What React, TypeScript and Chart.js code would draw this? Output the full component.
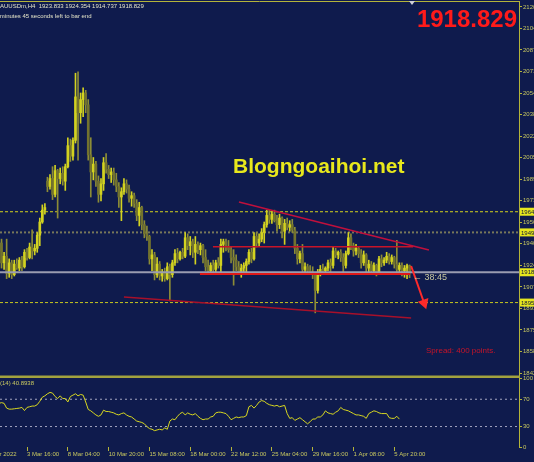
import React, { useEffect, useRef } from 'react';
import { Chart, registerables } from 'chart.js';

Chart.register(...registerables);

// ---------- data (XAUUSDm, H4) ----------
const openP = [
  1935,1941,1926,1931,1918,1926,1917,1925,1922,1928,
  1923,1934,1930,1938,1935,1937,1947,1957,1966,1988,
  1984,1990,1978,1996,1990,1994,1988,1999,2015,2007,
  2019,2052,2040,2050,2055,2046,2008,1995,2001,1988,
  1978,1986,2002,1997,1993,1995,1989,1984,1976,1980,
  1986,1982,1975,1977,1971,1962,1968,1955,1948,1946,
  1929,1932,1917,1925,1916,1919,1914,1923,1917,1926,
  1933,1929,1934,1931,1945,1939,1942,1934,1940,1936,
  1939,1930,1923,1920,1924,1921,1926,1924,1940,1942,
  1938,1936,1930,1928,1923,1919,1922,1924,1927,1934,
  1929,1946,1941,1944,1949,1955,1962,1959,1963,1958,
  1955,1960,1950,1956,1953,1955,1951,1937,1929,1933,
  1921,1923,1920,1919,1917,1905,1919,1921,1920,1922,
  1926,1924,1935,1932,1934,1930,1924,1933,1945,1939,
  1935,1937,1933,1926,1932,1922,1925,1920,1924,1919,
  1929,1926,1928,1931,1927,1930,1925,1921,1924,1920,
  1922,1923.833,
];
const highP = [
  1944,1944,1934,1944,1929,1928,1928,1929,1930,1931,
  1936,1937,1941,1951,1940,1949,1960,1970,1971,1991,
  1993,1999,2000,1997,1998,1999,2001,2021,2020,2021,
  2070,2071,2055,2059,2057,2050,2021,2006,2003,1992,
  1990,2006,2009,2000,1998,1998,1994,1987,1983,1990,
  1989,1985,1980,1979,1974,1972,1969,1958,1954,1947,
  1936,1934,1930,1927,1921,1922,1926,1925,1928,1936,
  1937,1935,1937,1949,1948,1946,1944,1946,1942,1941,
  1940,1936,1928,1926,1928,1928,1930,1944,1944,1944,
  1943,1938,1936,1932,1927,1925,1926,1929,1936,1937,
  1949,1949,1948,1952,1957,1966,1966,1965,1966,1962,
  1963,1961,1959,1960,1958,1959,1953,1940,1935,1940,
  1926,1925,1924,1923,1917,1921,1924,1925,1923,1928,
  1929,1938,1937,1935,1936,1933,1935,1949,1948,1941,
  1940,1938,1936,1935,1933,1928,1927,1926,1925,1931,
  1932,1930,1934,1933,1932,1931,1943,1926,1926,1924,
  1925,1924.354,
];
const lowP = [
  1932,1922,1921,1914,1915,1914,1916,1921,1920,1920,
  1922,1928,1929,1929,1932,1934,1939,1956,1963,1980,
  1982,1974,1976,1960,1986,1985,1981,1998,2003,2004,
  2017,2004,2032,2037,2040,2004,1976,1989,1984,1972,
  1973,1981,1994,1990,1987,1985,1980,1968,1958,1978,
  1979,1972,1969,1968,1958,1954,1951,1945,1943,1925,
  1920,1913,1915,1913,1912,1912,1913,1897,1915,1924,
  1926,1928,1929,1930,1936,1932,1930,1925,1933,1932,
  1926,1920,1918,1918,1918,1918,1922,1918,1934,1935,
  1934,1926,1909,1920,1917,1915,1918,1918,1925,1926,
  1928,1938,1939,1942,1941,1953,1956,1956,1957,1950,
  1952,1945,1940,1951,1950,1949,1933,1925,1926,1918,
  1917,1918,1917,1914,1888,1903,1916,1918,1917,1920,
  1919,1922,1930,1929,1927,1918,1922,1932,1936,1931,
  1932,1930,1922,1924,1919,1918,1917,1918,1916,1918,
  1923,1924,1926,1925,1925,1922,1918,1917,1916,1915,
  1914,1914.737,
];
const closeP = [
  1941,1926,1931,1918,1926,1917,1925,1922,1928,1923,
  1934,1930,1938,1935,1937,1947,1957,1966,1968,1984,
  1990,1978,1996,1990,1994,1988,1999,2015,2007,2019,
  2052,2040,2050,2055,2046,2008,1995,2001,1988,1978,
  1986,2002,1997,1993,1995,1989,1984,1976,1980,1986,
  1982,1975,1977,1971,1962,1968,1955,1948,1946,1929,
  1932,1917,1925,1916,1919,1914,1923,1917,1926,1933,
  1929,1934,1931,1945,1939,1942,1934,1940,1936,1939,
  1930,1923,1920,1924,1921,1926,1924,1940,1942,1938,
  1936,1930,1928,1923,1919,1922,1924,1927,1934,1929,
  1946,1941,1944,1949,1955,1962,1959,1963,1958,1955,
  1960,1950,1956,1953,1955,1951,1937,1929,1933,1921,
  1923,1920,1919,1917,1905,1919,1921,1920,1922,1926,
  1924,1935,1932,1934,1930,1924,1933,1945,1939,1935,
  1937,1933,1926,1932,1922,1925,1920,1924,1919,1929,
  1926,1928,1931,1927,1930,1925,1921,1924,1920,1922,
  1923.833,1918.829,
];
const rsiValues = [
  64,65,64,57,55.5,55.5,56,56.5,57,58,
  53.4,58,59,60,60,62,67,73,75,78,
  80,79,74,71,75,71,71,66,74,76,
  78,75,77,76,66,55,53,50,47,45,
  47,54,52,52,51,50,48,47,49,50,
  47,45,44,41,38,37,36,34,30,27,
  26,24,25,26,25,28,26,38,41,40,
  45,49,51,47,50,48,47,49,45,42,
  40,41,41,44,45,50,51,51,50,49,
  45,40,42,44,43,44,44,46,59,61,
  57,61,66,68,67,64,62,61,60,61,
  59,60,61,49,42,43,39,41,43,40,
  37,34,37,41,41,44,44,47,53,50,
  49,48,51,53,58,55,54,53,51,49,
  47,47,46,45,42,49,51,53,52,50,
  49,49,49,43,42,42,45,40.89,
];

const xTickIdx = [-5, 11, 27, 43, 59, 75, 91, 107, 123, 139, 155];
const xTickLabels = ['1 Mar 2022', '3 Mar 16:00', '8 Mar 04:00', '10 Mar 20:00', '15 Mar 08:00', '18 Mar 00:00',
  '22 Mar 12:00', '25 Mar 04:00', '29 Mar 16:00', '1 Apr 08:00', '5 Apr 20:00'];
const yTicks = [2120.40, 2104.04, 2087.68, 2071.32, 2054.96, 2038.60, 2022.24, 2005.88, 1989.52, 1973.16,
  1956.80, 1940.44, 1924.08, 1907.72, 1891.36, 1875.00, 1858.64, 1842.28];
const rsiTicks = [0, 30, 70, 100];
const rsiLevels = [70, 30];

// horizontal levels: 1964 (dash), 1949 (dots), bid, 1895 (dash)
const hLevels = [1964.80, 1949.10, 1918.829, 1895.80];
// trend lines: [barIndex, price]
const trendUpper = [[94.1, 1972.2], [168.6, 1935.7]];
const resistance = [[83.9, 1938.2], [162.4, 1938.2]];
const support = [[78.8, 1917.5], [161.2, 1917.5]];
const trendLower = [[49.0, 1900.0], [161.6, 1884.1]];
const arrowDown = [[161.6, 1923.6], [166.7, 1895.5]];

const X_MIN = 0.4;
const X_MAX = 203.9;
const BG = '#0f1b4d';
const AXIS = '#b4b43a';
const TXT = '#c8c860';
const FONT = 'Liberation Sans';

const pts = (arr: number[][]) => arr.map(([x, y]) => ({ x, y }));
const noPad = (s: any) => {
  s.paddingLeft = 0;
  s.paddingRight = 0;
  s.paddingTop = 0;
  s.paddingBottom = 0;
};

export default function App() {
  const ref = useRef<HTMLCanvasElement | null>(null);

  useEffect(() => {
    document.body.style.margin = '0';
    document.body.style.background = BG;
    const canvas = ref.current!;
    const bull = closeP.map((c, i) => c >= openP[i]);

    const levelStyles = [
      { color: '#d2d21e', dash: [3, 2], width: 1 },
      { color: '#78785a', dash: [2, 2], width: 2 },
      { color: '#9a9cb0', dash: [], width: 2 },
      { color: '#c8c81e', dash: [3, 2], width: 1 },
    ];

    const datasets: any[] = [
      {
        type: 'line', data: pts(arrowDown), borderColor: '#ff2a2a', borderWidth: 2,
        pointRadius: [0, 4.5], pointStyle: 'triangle', pointRotation: 161,
        pointBackgroundColor: '#ff2a2a', pointBorderColor: '#ff2a2a', order: 0, yAxisID: 'y',
      },
      { type: 'line', data: pts(trendUpper), borderColor: '#c0103c', borderWidth: 1.5, pointRadius: 0, order: 1, yAxisID: 'y' },
      { type: 'line', data: pts(resistance), borderColor: '#c81428', borderWidth: 1.5, pointRadius: 0, order: 1, yAxisID: 'y' },
      { type: 'line', data: pts(support), borderColor: '#e01818', borderWidth: 2, pointRadius: 0, order: 1, yAxisID: 'y' },
      { type: 'line', data: pts(trendLower), borderColor: '#a8102a', borderWidth: 1.5, pointRadius: 0, order: 1, yAxisID: 'y' },
      {
        type: 'bar', data: openP.map((o, i) => ({ x: i, y: [o, closeP[i]] })),
        backgroundColor: bull.map((b) => (b ? '#d2d220' : '#72722e')), barThickness: 2, minBarLength: 1,
        grouped: false, order: 2, yAxisID: 'y',
      },
      {
        type: 'bar', data: lowP.map((l, i) => ({ x: i, y: [l, highP[i]] })),
        backgroundColor: bull.map((b) => (b ? '#d2d220' : '#8c8c36')), barThickness: 1,
        grouped: false, order: 3, yAxisID: 'y',
      },
      ...hLevels.map((v, k) => ({
        type: 'line', data: [{ x: X_MIN, y: v }, { x: X_MAX, y: v }], borderColor: levelStyles[k].color,
        borderWidth: levelStyles[k].width, borderDash: levelStyles[k].dash, pointRadius: 0,
        order: k === 2 ? 1 : 6, yAxisID: 'y',
      })),
      {
        type: 'line', data: rsiValues.map((v, i) => ({ x: i, y: v })), borderColor: '#d8d820', borderWidth: 1,
        pointRadius: 0, tension: 0, order: 2, yAxisID: 'y2',
      },
      ...rsiLevels.map((v) => ({
        type: 'line', data: [{ x: X_MIN, y: v }, { x: X_MAX, y: v }], borderColor: '#a4a6c0',
        borderWidth: 1, borderDash: [2, 3], pointRadius: 0, order: 6, yAxisID: 'y2',
      })),
    ];

    const decor = {
      id: 'decor',
      beforeDraw(chart: any) {
        const { ctx, width, height } = chart;
        ctx.save();
        ctx.fillStyle = BG;
        ctx.fillRect(0, 0, width, height);
        ctx.restore();
      },
      afterDraw(chart: any) {
        const { ctx, chartArea } = chart;
        const ys = chart.scales.y;
        const y2 = chart.scales.y2;
        ctx.save();
        // frame
        ctx.strokeStyle = AXIS;
        ctx.lineWidth = 1;
        ctx.beginPath();
        ctx.moveTo(0, chartArea.top + 0.5);
        ctx.lineTo(chartArea.right, chartArea.top + 0.5);
        ctx.stroke();
        ctx.fillStyle = '#a2a23e';
        ctx.fillRect(0, y2.top - 1.5, chartArea.right + 1, 2.5);

        // highlighted price labels on the axis
        ctx.font = `6px ${FONT}`;
        ctx.textBaseline = 'middle';
        ctx.textAlign = 'left';
        hLevels.forEach((v) => {
          const py = ys.getPixelForValue(v);
          ctx.fillStyle = '#e6e61e';
          ctx.fillRect(chartArea.right + 1, py - 4, 20, 8);
          ctx.fillStyle = '#10163a';
          ctx.fillText(v.toFixed(3), chartArea.right + 2, py + 0.5);
        });

        // header texts
        ctx.fillStyle = '#e4e4c8';
        ctx.textBaseline = 'alphabetic';
        ctx.fillText('XAUUSDm,H4  1923.833 1924.354 1914.737 1918.829', -4, 8);
        ctx.fillText('38 minutes 45 seconds left to bar end', -8.5, 18);
        ctx.fillStyle = TXT;
        ctx.fillText('RSI(14) 40.8938', -10, y2.top + 8);

        // countdown near last bar
        ctx.fillStyle = '#c8c8a0';
        ctx.font = `9px ${FONT}`;
        ctx.fillText('← 38:45', 413, 280);

        // spread
        ctx.fillStyle = '#c81428';
        ctx.font = `8px ${FONT}`;
        ctx.fillText('Spread: 400 points.', 426, 353);

        // big price
        ctx.fillStyle = '#ff1a1a';
        ctx.font = `bold 24px ${FONT}`;
        ctx.textAlign = 'right';
        ctx.fillText('1918.829', 517, 27);

        // watermark
        ctx.fillStyle = '#e8e81c';
        ctx.font = `bold 21px ${FONT}`;
        ctx.textAlign = 'left';
        ctx.fillText('Blogngoaihoi.net', 233, 173);

        // time marker
        ctx.fillStyle = '#d0d0d8';
        ctx.beginPath();
        ctx.moveTo(409, 1);
        ctx.lineTo(415, 1);
        ctx.lineTo(412, 5);
        ctx.closePath();
        ctx.fill();
        ctx.restore();
      },
    };

    const chart = new Chart(canvas, {
      type: 'bar',
      data: { datasets },
      options: {
        animation: false,
        responsive: false,
        events: [],
        layout: { autoPadding: false, padding: { top: 1, left: 0, right: 0, bottom: 0 } },
        plugins: { legend: { display: false }, tooltip: { enabled: false } },
        scales: {
          x: {
            type: 'linear', min: X_MIN, max: X_MAX, offset: false, position: 'bottom',
            afterBuildTicks: (s: any) => { s.ticks = xTickIdx.map((v) => ({ value: v })); },
            afterFit: (s: any) => { s.height = 15; noPad(s); },
            ticks: {
              autoSkip: false, maxRotation: 0, minRotation: 0, align: 'start', color: TXT, padding: 0,
              font: { size: 6, family: FONT }, callback: (_v: any, idx: number) => xTickLabels[idx],
            },
            grid: { display: true, drawOnChartArea: false, drawTicks: true, tickLength: 4, color: AXIS, offset: false },
            border: { display: false },
          },
          y: {
            type: 'linear', position: 'right', stack: 'panes', stackWeight: 376, min: 1839.28, max: 2124.86,
            afterBuildTicks: (s: any) => { s.ticks = yTicks.map((v) => ({ value: v })); },
            afterFit: (s: any) => { s.width = 15; noPad(s); },
            ticks: {
              autoSkip: false, color: TXT, padding: 1, font: { size: 6, family: FONT },
              callback: (v: any) => Number(v).toFixed(2),
            },
            grid: { display: true, drawOnChartArea: false, drawTicks: true, tickLength: 3, color: AXIS },
            border: { display: true, color: AXIS, width: 1 },
          },
          y2: {
            type: 'linear', position: 'right', stack: 'panes', stackWeight: 70, min: 0, max: 102.6,
            afterBuildTicks: (s: any) => { s.ticks = rsiTicks.map((v) => ({ value: v })); },
            afterFit: (s: any) => { s.width = 15; noPad(s); },
            ticks: { autoSkip: false, color: TXT, padding: 1, font: { size: 6, family: FONT } },
            grid: { display: true, drawOnChartArea: false, drawTicks: true, tickLength: 3, color: AXIS },
            border: { display: true, color: AXIS, width: 1 },
          },
        },
      } as any,
      plugins: [decor],
    } as any);
    return () => chart.destroy();
  }, []);

  return (
    <div style={{ position: 'fixed', left: 0, top: 0, width: 534, height: 462, overflow: 'hidden', background: BG }}>
      <canvas ref={ref} width={534} height={462} style={{ display: 'block', width: 534, height: 462 }} />
    </div>
  );
}
